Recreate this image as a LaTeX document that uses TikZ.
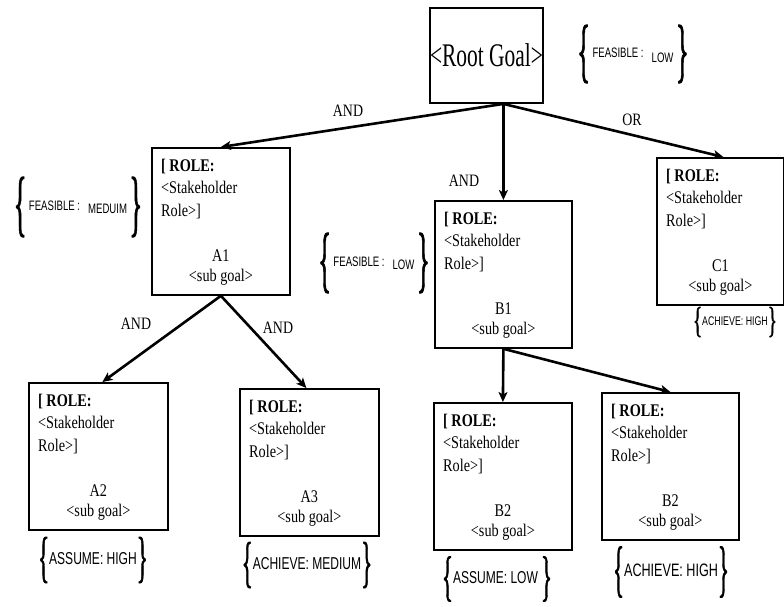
\documentclass[tikz,border=0pt]{standalone}
\usepackage{fontspec}
\setmainfont{Liberation Serif}[FakeStretch=0.8]
\newfontfamily\rootfont{Liberation Serif}[FakeStretch=0.65]
\newfontfamily\lblfont{Liberation Sans}[FakeStretch=0.7]
\newfontfamily\bracefont{Liberation Serif}[FakeBold=1.5]
\usetikzlibrary{arrows.meta,calc}
\newcommand\myLB[2][12pt]{$\vcenter{\hbox{\resizebox*{#1}{#2}{\bracefont\{}}}$}
\newcommand\myRB[2][12pt]{$\vcenter{\hbox{\resizebox*{#1}{#2}{\bracefont\}}}}$}
\tikzset{
  goalbox/.style={draw, line width=1.8pt, minimum width=138pt, minimum height=147pt, inner sep=0pt, anchor=north west},
  roletext/.style={anchor=base west, align=left, inner sep=0pt, font=\fontsize{17.8}{22.5}\selectfont},
  subtext/.style={anchor=base, inner sep=0pt, font=\fontsize{17.8}{20}\selectfont},
  conn/.style={line width=2.6pt, -{Stealth[length=10pt,width=9pt,inset=2.5pt]}},
  oplabel/.style={inner sep=0pt, font=\fontsize{17.4}{20}\selectfont},
  bracelbl/.style={inner sep=0pt, font=\lblfont\fontsize{13.7}{15}\selectfont},
  bracebig/.style={inner sep=0pt, font=\lblfont\fontsize{17.2}{19}\selectfont},
}
\newcommand\goal[5]{%
  \node[goalbox, minimum width=#4pt] (#1) at (#2,#3) {};
  \node[roletext] (#1r) at ($(#1.north west)+(10,69)$) {\textbf{[ ROLE:}\\<Stakeholder\\Role>]};
  \node[subtext] (#1i) at ($(#1.north)+(0,114)$) {#5};
  \node[subtext] (#1s) at ($(#1.north)+(0,134)$) {<sub goal>};
}
\begin{document}
\begin{tikzpicture}[x=1pt,y=-1pt]
\useasboundingbox (0,0) rectangle (784,606);
\node[draw, line width=1.8pt, minimum width=107pt, minimum height=95pt, inner sep=0pt,
      font=\rootfont\fontsize{33}{36}\selectfont] (root) at (486.5,55.5) {<Root Goal>};
\goal{A1}{151}{147}{138}{A1}
\goal{B1}{434}{200}{137}{B1}
\goal{C1}{656}{157}{127}{C1}
\goal{A2}{28}{382}{139}{A2}
\goal{A3}{239}{388}{139}{A3}
\goal{B2L}{433}{402}{138}{B2}
\goal{B2R}{601}{392}{137}{B2}

\coordinate (rootout) at (root.south -| B1.north);
\draw[conn] (rootout) -- (A1.north);
\draw[conn] (rootout) -- (B1.north);
\draw[conn] (rootout) -- ($(C1.north)+(3,0)$);
\draw[conn] (A1.south) -- ($(A2.north)+(4,0)$);
\draw[conn] (A1.south) -- ($(A3.north)+(-3,0)$);
\draw[conn] (B1.south) -- (B2L.north);
\draw[conn] (B1.south) -- (B2R.north);

\node[oplabel] (and1) at (348,111) {AND};
\node[oplabel] (or1) at (632,120) {OR};
\node[oplabel] (and2) at (464,181) {AND};
\node[oplabel] (and3) at (136,324) {AND};
\node[oplabel] (and4) at (278,328) {AND};

\node[bracelbl] (rootf) at (633,54) {\myLB[13pt]{58pt}\,FEASIBLE :\hspace{8pt}\raisebox{-5pt}{LOW}\,\myRB[13pt]{58pt}};
\node[bracelbl] (A1f) at (78,207) {\myLB[13pt]{60pt}\,FEASIBLE :\hspace{8pt}\raisebox{-3pt}{MEDUIM}\,\myRB[13pt]{60pt}};
\node[bracelbl] (B1f) at (374,263) {\myLB[13pt]{60pt}\,FEASIBLE :\hspace{8pt}\raisebox{-3pt}{LOW}\,\myRB[13pt]{60pt}};
\node[bracelbl, font=\lblfont\fontsize{12.6}{13}\selectfont] (C1a) at (735,322) {\myLB[9pt]{30pt}ACHIEVE: HIGH\myRB[9pt]{30pt}};
\node[bracebig] (A2a) at (93,560) {\myLB[11pt]{46pt}ASSUME: HIGH\myRB[11pt]{46pt}};
\node[bracebig] (A3a) at (307,565) {\myLB[11pt]{46pt}ACHIEVE: MEDIUM\myRB[11pt]{46pt}};
\node[bracebig] (B2La) at (497,579) {\myLB[11pt]{45pt}ASSUME: LOW\hspace{3pt}\myRB[11pt]{45pt}};
\node[bracebig, font=\lblfont\fontsize{18}{19}\selectfont] (B2Ra) at (671,572) {\myLB[11pt]{51pt}ACHIEVE: HIGH\myRB[11pt]{51pt}};
\end{tikzpicture}
\end{document}
